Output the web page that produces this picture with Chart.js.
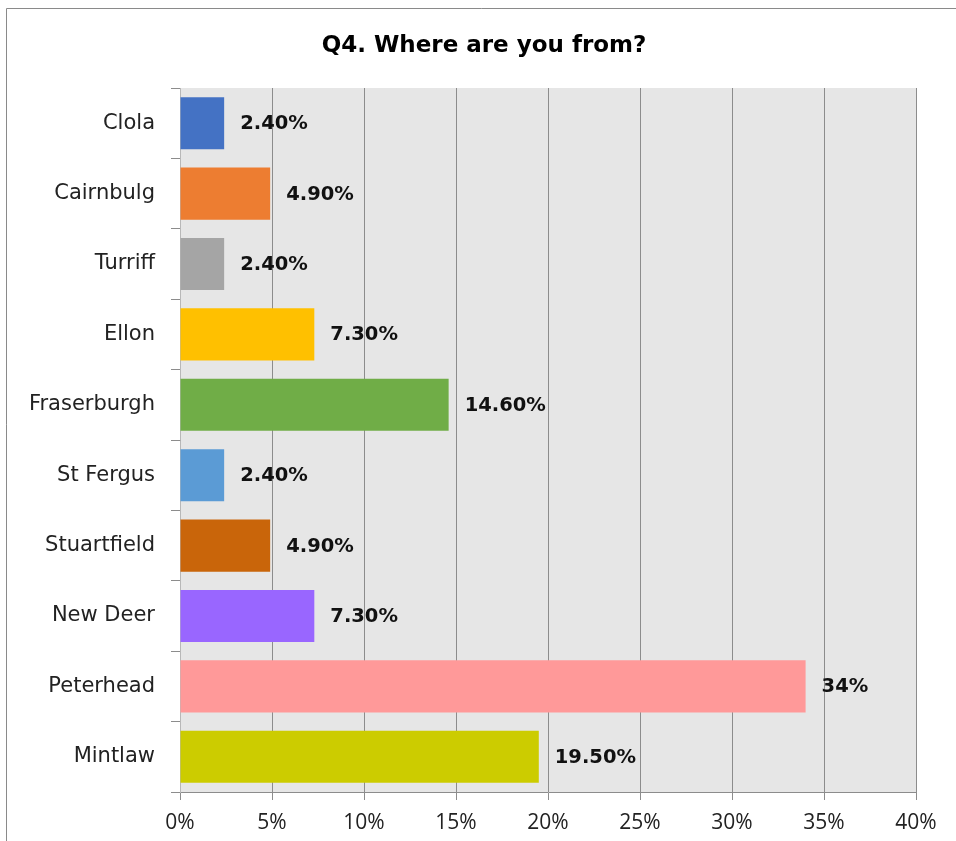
<!DOCTYPE html>
<html>
  <head>
    <title>Q4. Where are you from?</title>
    <script src="https://cdn.jsdelivr.net/npm/chart.js@4"></script>
    <style>
      html, body { margin: 0; padding: 0; background: #fff; }
      #wrap { width: 956px; height: 841px; }
    </style>
  </head>
  <body>
    <div id="wrap"><canvas id="chart"></canvas></div>
    <script>
      const chartTitle = "Q4. Where are you from?"
      const towns = ["Clola", "Cairnbulg", "Turriff", "Ellon", "Fraserburgh",
        "St Fergus", "Stuartfield", "New Deer", "Peterhead", "Mintlaw"]
      const shares = [2.4, 4.9, 2.4, 7.3, 14.6, 2.4, 4.9, 7.3, 34, 19.5]
      const shareLabels = ["2.40%", "4.90%", "2.40%", "7.30%", "14.60%",
        "2.40%", "4.90%", "7.30%", "34%", "19.50%"]
      const barColours = ["#4472c4", "#ed7d31", "#a5a5a5", "#ffc000", "#70ad47",
        "#5b9bd5", "#c9650a", "#9966ff", "#ff9999", "#cccc00"]

      // grey plot background, outer frame and title
      const backdrop = {
        id: "backdrop",
        beforeDraw(chart) {
          const { ctx, chartArea: a } = chart
          ctx.save()
          ctx.fillStyle = "#e6e6e6"
          ctx.fillRect(a.left, a.top, a.right - a.left, a.bottom - a.top)
          ctx.strokeStyle = "#8a8a8a"
          ctx.lineWidth = 1
          ctx.beginPath()
          ctx.moveTo(6.5, chart.height)
          ctx.lineTo(6.5, 8.5)
          ctx.lineTo(chart.width, 8.5)
          ctx.stroke()
          ctx.font = "bold 23px 'DejaVu Sans'"
          ctx.fillStyle = "#000"
          ctx.textAlign = "center"
          ctx.textBaseline = "middle"
          ctx.fillText(chartTitle, 484, 46)
          ctx.restore()
        }
      }

      // value labels just past the end of each bar
      const valueLabels = {
        id: "valueLabels",
        afterDatasetsDraw(chart) {
          const { ctx } = chart
          ctx.save()
          ctx.font = "bold 19.5px 'DejaVu Sans'"
          ctx.fillStyle = "#111"
          ctx.textBaseline = "middle"
          chart.getDatasetMeta(0).data.forEach((bar, i) => {
            ctx.fillText(shareLabels[i], bar.x + 16, bar.y + 1)
          })
          ctx.restore()
        }
      }

      new Chart(document.getElementById("chart"), {
        type: "bar",
        data: {
          labels: towns,
          datasets: [{
            data: shares,
            backgroundColor: barColours,
            barPercentage: 0.74,
            categoryPercentage: 1,
          }]
        },
        options: {
          indexAxis: "y",
          responsive: true,
          maintainAspectRatio: false,
          animation: false,
          layout: { padding: { left: 10, right: 40, top: 88, bottom: 0 } },
          plugins: {
            legend: { display: false },
            tooltip: { enabled: false },
            title: { display: false },
          },
          scales: {
            x: {
              min: 0,
              max: 40,
              afterFit(scale) { scale.height = 49 },
              ticks: {
                stepSize: 5,
                padding: 10,
                color: "#222",
                font: { family: "'Open Sans'", size: 21 },
                callback: v => v + "%",
              },
              grid: { color: "#8c8c8c", tickLength: 8 },
              border: { color: "#8c8c8c" },
            },
            y: {
              afterFit(scale) { scale.width = 170 },
              ticks: {
                padding: 16,
                color: "#222",
                font: { family: "'DejaVu Sans'", size: 21 },
              },
              grid: { drawOnChartArea: false, tickLength: 9, color: "#8c8c8c" },
              border: { color: "#b8b8b8" },
            }
          }
        },
        plugins: [backdrop, valueLabels]
      })
    </script>
  </body>
</html>
